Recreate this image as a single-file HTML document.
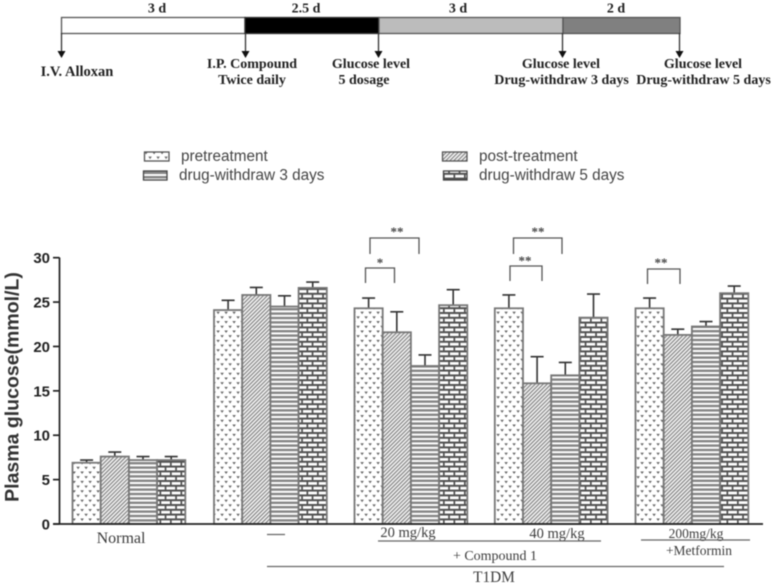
<!DOCTYPE html>
<html lang="en">
<head>
<meta charset="utf-8">
<title>Plasma glucose chart</title>
<style>
html,body{margin:0;padding:0;background:#fff;width:774px;height:586px;overflow:hidden}
svg{display:block;filter:blur(0.5px)}
.tl{font-family:"Liberation Serif",serif;font-weight:bold;font-size:14px;fill:#222;text-anchor:middle}
.lg{font-family:"Liberation Sans",sans-serif;font-size:15.3px;fill:#444}
.xl{font-family:"Liberation Serif",serif;font-size:15px;fill:#3c3c3c;text-anchor:middle}
.tick{font-family:"Liberation Sans",sans-serif;font-weight:bold;font-size:15px;fill:#222;text-anchor:end}
.star{font-family:"Liberation Serif",serif;font-weight:bold;font-size:13px;fill:#444;text-anchor:middle}
</style>
</head>
<body>
<svg id="chart" width="774" height="586" viewBox="0 0 774 586" xmlns="http://www.w3.org/2000/svg">
<defs>
<pattern id="p-dots" patternUnits="userSpaceOnUse" width="8" height="9.400">
<rect width="8" height="9.400" fill="#fff"/>
<path d="M0.300 1.500h3.600l-1.800 2.400zM4.300 6.200h3.600l-1.800 2.400z" fill="#666"/>
</pattern>
<pattern id="p-diag" patternUnits="userSpaceOnUse" width="2.800" height="4" patternTransform="rotate(45)">
<rect width="2.800" height="4" fill="#f0f0f0"/>
<rect width="1" height="4" fill="#777"/>
</pattern>
<pattern id="p-horiz" patternUnits="userSpaceOnUse" width="8" height="4.400">
<rect width="8" height="4.400" fill="#fff"/>
<rect width="8" height="2.400" fill="#858585"/>
</pattern>
<pattern id="p-brick" patternUnits="userSpaceOnUse" width="10.500" height="9.600">
<rect width="10.500" height="9.600" fill="#fff"/>
<rect width="10.500" height="2" y="0" fill="#505050"/>
<rect width="10.500" height="2" y="4.800" fill="#505050"/>
<rect x="2" y="0" width="1.700" height="4.800" fill="#505050"/>
<rect x="7.200" y="4.800" width="1.700" height="4.800" fill="#505050"/>
</pattern>
</defs>

<g>
<rect x="61.500" y="17.500" width="183.500" height="16" fill="#fff" stroke="#555" stroke-width="1.300"/>
<rect x="245" y="17.500" width="134" height="16" fill="#000" stroke="#333" stroke-width="1.300"/>
<rect x="379" y="17.500" width="184" height="16" fill="#bcbcbc" stroke="#555" stroke-width="1.300"/>
<rect x="563" y="17.500" width="117" height="16" fill="#808080" stroke="#555" stroke-width="1.300"/>
<text class="tl" x="157" y="12.500">3 d</text>
<text class="tl" x="306" y="12.500">2.5 d</text>
<text class="tl" x="458" y="12.500">3 d</text>
<text class="tl" x="616" y="12.500">2 d</text>
<g stroke="#333" stroke-width="1.300" fill="#111">
<path d="M61.500 33V52"/><path stroke="none" d="M57.500 51h8l-4 7z"/>
<path d="M245.500 33V52"/><path stroke="none" d="M241.500 51h8l-4 7z"/>
<path d="M378.500 33V52"/><path stroke="none" d="M374.500 51h8l-4 7z"/>
<path d="M562.500 33V52"/><path stroke="none" d="M558.500 51h8l-4 7z"/>
<path d="M679.500 33V52"/><path stroke="none" d="M675.500 51h8l-4 7z"/>
</g>
<text class="tl" x="77" y="76" style="font-size:14.500px">I.V. Alloxan</text>
<text class="tl" x="252" y="68">I.P. Compound</text>
<text class="tl" x="252" y="84">Twice daily</text>
<text class="tl" x="371" y="68">Glucose level</text>
<text class="tl" x="364" y="84">5 dosage</text>
<text class="tl" x="561" y="68">Glucose level</text>
<text class="tl" x="561.500" y="84">Drug-withdraw 3 days</text>
<text class="tl" x="703" y="68">Glucose level</text>
<text class="tl" x="703.500" y="84">Drug-withdraw 5 days</text>
</g>

<g>
<rect x="144.500" y="152" width="24.500" height="9" fill="url(#p-dots)" stroke="#555" stroke-width="1.300"/>
<text class="lg" x="181" y="161">pretreatment</text>
<rect x="143.500" y="171" width="23.500" height="9" fill="url(#p-horiz)" stroke="#444" stroke-width="1.300"/>
<text class="lg" x="179" y="180">drug-withdraw 3 days</text>
<rect x="442.500" y="152" width="24.500" height="9" fill="url(#p-diag)" stroke="#555" stroke-width="1.300"/>
<text class="lg" x="479" y="161">post-treatment</text>
<rect x="443.500" y="171" width="23.500" height="9" fill="url(#p-brick)" stroke="#444" stroke-width="1.300"/>
<text class="lg" x="479" y="180">drug-withdraw 5 days</text>
</g>

<g id="plot"></g>

<text transform="translate(18.500,387) rotate(-90)" text-anchor="middle" style="font-family:'Liberation Sans',sans-serif;font-weight:bold;font-size:19.500px;fill:#333">Plasma glucose(mmol/L)</text>

<g fill="none" stroke="#555" stroke-width="1.300">
<path d="M370 254V238H419V254"/>
<path d="M365.500 283V268H394.500V283"/>
<path d="M513.500 254V238H562V254"/>
<path d="M510 281V266H542V281"/>
<path d="M647.500 284V269H680V284"/>
</g>
<text class="star" x="397" y="236">**</text>
<text class="star" x="380" y="267">*</text>
<text class="star" x="538" y="236">**</text>
<text class="star" x="525" y="265">**</text>
<text class="star" x="661" y="267">**</text>

<g>
<text class="xl" x="121" y="543" style="font-size:16px">Normal</text>
<path d="M267 534.500H285" stroke="#666" stroke-width="1.300"/>
<text class="xl" x="408" y="537" style="font-size:14.500px">20 mg/kg</text>
<text class="xl" x="557" y="538" style="font-size:14.500px">40 mg/kg</text>
<path d="M378 541H601" stroke="#666" stroke-width="1.300"/>
<text class="xl" x="495" y="560" style="font-size:14px">+ Compound 1</text>
<text class="xl" x="696" y="538" style="font-size:13.500px">200mg/kg</text>
<path d="M641 540H750" stroke="#666" stroke-width="1.300"/>
<text class="xl" x="699" y="555" style="font-size:13.500px">+Metformin</text>
<path d="M267 566.500H724" stroke="#666" stroke-width="1.300"/>
<text class="xl" x="494" y="582" style="font-size:15.300px">T1DM</text>
</g>
</svg>

<script>
const groupNames = ['normal', 't1dm', 'compound-20', 'compound-40', 'metformin'];
const seriesNames = ['pretreatment', 'post-treatment', 'withdraw-3', 'withdraw-5'];
const pretreatment = [6.9, 24.1, 24.3, 24.3, 24.3];
const postTreatment = [7.6, 25.8, 21.6, 15.85, 21.3];
const withdraw3 = [7.2, 24.5, 17.8, 16.75, 22.25];
const withdraw5 = [7.2, 26.6, 24.65, 23.25, 26.0];
const pretreatmentErr = [0.3, 1.1, 1.15, 1.5, 1.15];
const postTreatmentErr = [0.5, 0.85, 2.3, 3.0, 0.65];
const withdraw3Err = [0.4, 1.2, 1.25, 1.45, 0.55];
const withdraw5Err = [0.4, 0.65, 1.75, 2.65, 0.8];
const yTicks = [0, 5, 10, 15, 20, 25, 30];

const allValues = [pretreatment, postTreatment, withdraw3, withdraw5];
const allErrors = [pretreatmentErr, postTreatmentErr, withdraw3Err, withdraw5Err];
const fills = ['url(#p-dots)', 'url(#p-diag)', 'url(#p-horiz)', 'url(#p-brick)'];
const groupLefts = [72.5, 214, 354.5, 494.8, 635.5];
const barWidth = 28.2;

function yScale(v) { return 524 - v * 8.877; }
function xBar(g, s) { return groupLefts[g] + s * barWidth; }

const plot = document.getElementById('plot');
const NS = 'http://www.w3.org/2000/svg';
function make(tag, attrs) {
  const el = document.createElementNS(NS, tag);
  for (const k in attrs) el.setAttribute(k, attrs[k]);
  plot.appendChild(el);
  return el;
}

groupNames.forEach(function (gName, g) {
  seriesNames.forEach(function (sName, s) {
    const v = allValues[s][g];
    const e = allErrors[s][g];
    const x = xBar(g, s);
    const cx = x + barWidth / 2;
    const errLine = make('path', {
      d: 'M' + cx + ' ' + yScale(v) + 'V' + yScale(v + e) + 'M' + (cx - 6.5) + ' ' + yScale(v + e) + 'H' + (cx + 6.5),
      fill: 'none', stroke: '#333', 'stroke-width': 1.6
    });
    
    
    const bar = make('rect', {
      x: x, y: yScale(v), width: barWidth, height: yScale(0) - yScale(v),
      fill: fills[s], stroke: '#777', 'stroke-width': 1.8
    });
    
    
  });
});

const yAxis = make('path', { d: 'M59.500 257.500V524', fill: 'none', stroke: '#222', 'stroke-width': 1.700 });


const xAxis = make('path', { d: 'M53 524H763', fill: 'none', stroke: '#222', 'stroke-width': 1.700 });



yTicks.forEach(function (t) {
  const tick = make('path', { d: 'M53 ' + yScale(t) + 'H59.500', fill: 'none', stroke: '#222', 'stroke-width': 1.700 });
  
  
  const label = make('text', { x: 50, y: yScale(t) + 5.500, 'class': 'tick' });
  label.textContent = String(t);
  
  
});
</script>
</body>
</html>
